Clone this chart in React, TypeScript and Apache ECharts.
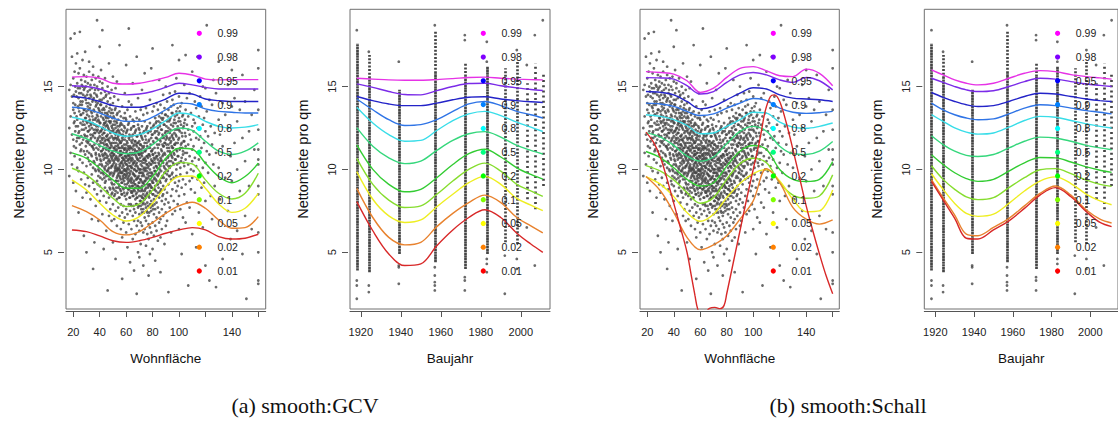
import React, { useEffect, useRef } from "react";
import * as echarts from "echarts";

// ---------- legend / quantiles ----------
const quantiles = ["0.99", "0.98", "0.95", "0.9", "0.8", "0.5", "0.2", "0.1", "0.05", "0.02", "0.01"];
const dotColors = ["#FF00FF", "#8000FF", "#0000FF", "#0080FF", "#00FFFF", "#00FF80", "#00FF00", "#80FF00", "#FFFF00", "#FF8000", "#FF0000"];
const lineColors = ["#E632E6", "#7B2BE8", "#2323C8", "#2F74E6", "#38DDE8", "#35D77C", "#33CC33", "#86DD2E", "#EEEE22", "#E8822E", "#D82828"];

// ---------- axis ticks ----------
const yTicks = [5, 10, 15];
const areaTicks = [20, 40, 60, 80, 100, 120, 140, 160];
const areaLabels = [20, 40, 60, 80, 100, 140];
const yearTicks = [1920, 1940, 1960, 1980, 2000];

// ---------- quantile curves: Wohnfläche ----------
const areaGrid = [19, 30, 40, 50, 60, 70, 80, 90, 100, 110, 120, 130, 140, 150, 160];
const gcvArea = [
  [15.57, 15.6, 15.5, 15.2, 15.15, 15.2, 15.35, 15.55, 15.8, 15.7, 15.45, 15.4, 15.42, 15.42, 15.42],
  [15.05, 15.0, 14.85, 14.6, 14.5, 14.55, 14.7, 14.95, 15.2, 15.1, 14.95, 14.85, 14.85, 14.85, 14.85],
  [14.4, 14.3, 14.1, 13.85, 13.75, 13.75, 13.95, 14.25, 14.6, 14.55, 14.25, 14.15, 14.1, 14.1, 14.1],
  [13.75, 13.65, 13.4, 13.1, 12.9, 12.9, 13.15, 13.6, 14.0, 13.95, 13.65, 13.5, 13.45, 13.4, 13.4],
  [13.15, 12.95, 12.6, 12.2, 12.0, 12.1, 12.45, 12.95, 13.4, 13.3, 12.9, 12.6, 12.5, 12.55, 12.7],
  [12.15, 11.85, 11.45, 11.1, 10.95, 11.05, 11.5, 12.1, 12.5, 12.35, 11.7, 11.1, 10.9, 11.1, 11.6],
  [11.0, 10.67, 10.07, 9.37, 8.86, 8.86, 9.57, 10.67, 11.28, 11.22, 10.37, 9.57, 9.2, 9.57, 10.37],
  [10.07, 9.67, 9.0, 8.26, 7.76, 7.92, 8.76, 9.87, 10.41, 10.33, 9.37, 8.56, 8.22, 8.56, 9.77],
  [9.37, 8.76, 7.96, 7.25, 6.89, 7.15, 7.96, 8.96, 9.57, 9.6, 8.86, 7.92, 7.41, 7.66, 8.56],
  [7.82, 7.45, 6.95, 6.25, 6.05, 6.25, 6.79, 7.35, 7.8, 8.02, 7.66, 6.95, 6.45, 6.49, 7.15],
  [6.35, 6.25, 5.99, 5.7, 5.6, 5.7, 5.9, 6.15, 6.35, 6.49, 6.35, 5.95, 5.8, 5.85, 6.09],
];
const schallArea = [
  [15.9, 15.85, 15.75, 15.35, 14.65, 14.9, 15.55, 16.1, 16.2, 15.95, 15.65, 15.6, 16.05, 15.8, 15.05],
  [15.54, 15.52, 15.45, 15.05, 14.55, 14.7, 15.25, 15.7, 15.85, 15.7, 15.4, 15.25, 15.55, 15.35, 14.8],
  [14.7, 14.65, 14.5, 14.1, 13.65, 13.8, 14.2, 14.6, 14.93, 14.85, 14.5, 14.3, 14.25, 14.2, 14.1],
  [14.0, 13.95, 13.8, 13.5, 13.25, 13.35, 13.7, 14.0, 14.28, 14.15, 13.7, 13.45, 13.38, 13.42, 13.5],
  [13.3, 13.2, 13.0, 12.65, 12.15, 12.2, 12.6, 13.0, 13.45, 13.4, 12.85, 12.55, 12.48, 12.6, 12.8],
  [12.22, 11.95, 11.45, 10.8, 10.5, 10.75, 11.55, 12.3, 12.6, 12.3, 11.4, 10.95, 10.9, 11.1, 11.68],
  [11.08, 10.7, 10.1, 9.4, 9.0, 9.2, 10.2, 11.1, 11.44, 11.2, 10.0, 9.4, 9.27, 9.4, 10.47],
  [10.23, 9.9, 9.37, 8.6, 7.96, 8.3, 9.4, 10.35, 10.67, 10.4, 9.2, 8.45, 8.26, 8.4, 9.67],
  [9.57, 9.1, 8.36, 7.4, 6.87, 7.3, 8.3, 9.15, 9.75, 10.0, 9.3, 8.2, 7.45, 7.5, 8.76],
  [9.57, 8.7, 7.4, 5.9, 5.15, 5.45, 6.0, 7.0, 8.1, 10.05, 9.2, 7.7, 7.0, 6.7, 6.95],
];
// the 0.01 curve of the Schall fit (x, y), runs off the bottom of the plot
const schallAreaLow = [
  [19, 12.25], [25, 11.6], [30, 10.7], [35, 9.4], [40, 7.95], [45, 6.5], [50, 5.0], [53, 3.7], [56, 2.4],
  [58, 1.6], [61, 1.1], [64, 1.35], [67, 1.62], [71, 1.68], [75, 1.6], [78, 1.8], [80, 2.5], [85, 4.4],
  [90, 6.3], [95, 8.2], [100, 10.0], [105, 11.8], [109, 13.5], [113, 14.4], [116, 14.5], [120, 14.1],
  [125, 12.8], [130, 11.2], [135, 9.5], [140, 7.8], [145, 6.3], [150, 4.9], [155, 3.6], [160, 2.5],
];

// ---------- quantile curves: Baujahr ----------
const gcvYearGrid = [1918, 1926, 1934, 1942, 1950, 1958, 1966, 1974, 1982, 1990, 1998, 2005, 2011];
const gcvYear = [
  [15.5, 15.45, 15.4, 15.38, 15.38, 15.42, 15.48, 15.55, 15.57, 15.5, 15.45, 15.42, 15.4],
  [15.16, 14.95, 14.7, 14.52, 14.5, 14.75, 15.0, 15.18, 15.2, 15.05, 14.92, 14.82, 14.76],
  [14.4, 14.15, 13.95, 13.85, 13.85, 14.0, 14.2, 14.35, 14.38, 14.25, 14.15, 14.08, 14.04],
  [14.25, 13.6, 13.0, 12.65, 12.7, 13.0, 13.5, 13.95, 14.1, 13.85, 13.5, 13.3, 13.1],
  [13.75, 12.8, 12.1, 11.7, 11.75, 12.35, 12.95, 13.35, 13.5, 13.25, 12.85, 12.55, 12.29],
  [12.52, 11.4, 10.7, 10.35, 10.5, 11.15, 11.75, 12.15, 12.28, 11.95, 11.45, 11.15, 10.93],
  [11.48, 10.0, 9.1, 8.65, 8.8, 9.5, 10.3, 10.95, 11.22, 10.75, 10.1, 9.7, 9.42],
  [10.67, 9.1, 8.15, 7.7, 7.8, 8.5, 9.3, 10.0, 10.38, 9.9, 9.1, 8.7, 8.37],
  [9.87, 8.2, 7.2, 6.8, 6.95, 7.75, 8.5, 9.2, 9.58, 9.1, 8.25, 7.85, 7.51],
  [8.86, 7.1, 5.9, 5.45, 5.6, 6.55, 7.35, 8.0, 8.45, 8.0, 7.1, 6.6, 6.17],
  [8.06, 6.3, 4.9, 4.2, 4.3, 5.4, 6.35, 7.1, 7.57, 7.1, 6.15, 5.5, 5.0],
];
const schallYearGrid = [1918, 1924, 1930, 1936, 1942, 1950, 1958, 1966, 1974, 1982, 1990, 1998, 2005, 2011];
const schallYear = [
  [16.0, 15.7, 15.4, 15.2, 15.1, 15.2, 15.5, 15.8, 15.96, 15.9, 15.72, 15.6, 15.52, 15.45],
  [15.5, 15.25, 15.0, 14.8, 14.7, 14.75, 15.0, 15.3, 15.5, 15.45, 15.3, 15.15, 15.07, 15.0],
  [14.64, 14.35, 14.1, 13.9, 13.8, 13.85, 14.1, 14.4, 14.6, 14.55, 14.4, 14.25, 14.15, 14.1],
  [14.0, 13.6, 13.3, 13.1, 13.0, 13.05, 13.35, 13.7, 13.9, 13.85, 13.7, 13.55, 13.45, 13.35],
  [13.3, 12.9, 12.5, 12.25, 12.13, 12.2, 12.55, 12.95, 13.2, 13.15, 12.95, 12.75, 12.6, 12.5],
  [12.03, 11.5, 11.1, 10.85, 10.78, 10.9, 11.3, 11.7, 11.95, 11.9, 11.7, 11.45, 11.3, 11.19],
  [10.89, 10.3, 9.8, 9.45, 9.28, 9.4, 9.9, 10.4, 10.72, 10.7, 10.45, 10.15, 9.95, 9.82],
  [10.22, 9.4, 8.8, 8.35, 8.18, 8.3, 8.9, 9.5, 9.98, 10.05, 9.75, 9.35, 9.1, 8.98],
  [9.74, 8.8, 7.95, 7.35, 7.17, 7.3, 7.95, 8.7, 9.3, 9.55, 9.15, 8.5, 8.1, 7.87],
  [9.38, 8.3, 7.25, 6.1, 6.0, 6.5, 7.05, 7.8, 8.55, 9.0, 8.45, 7.55, 7.0, 6.77],
  [9.28, 8.16, 7.05, 5.85, 5.8, 6.35, 6.9, 7.65, 8.45, 8.9, 8.35, 7.45, 6.8, 6.55],
];

// ---------- observations: Wohnfläche (x, list of Nettomiete values) ----------
const areaObs: [number, number[]][] = [
  [17, [12.5, 14.8, 9.6]], [18, [17.9, 13.2, 11.0, 15.1]], [19, [16.8, 12.1, 14.4, 10.3]],
  [20, [13.6, 15.5, 11.8, 9.2, 14.0]], [21, [18.2, 12.9, 15.9, 10.8, 13.4]], [22, [14.7, 11.3, 16.4, 12.6, 8.7]],
  [23, [15.2, 13.0, 10.1, 17.0, 11.9]], [24, [12.2, 14.3, 9.9, 15.8, 13.7, 7.4]], [25, [16.1, 11.5, 13.9, 18.3, 10.6, 14.9]],
  [26, [13.3, 15.4, 12.0, 9.4, 14.6, 11.2]], [27, [14.1, 10.4, 16.6, 12.7, 15.0, 8.3]], [28, [12.4, 14.8, 11.1, 13.6, 9.8, 15.7, 6.0]],
  [29, [15.3, 13.1, 10.9, 14.4, 12.0, 17.1, 9.1]], [30, [11.7, 14.0, 12.9, 15.6, 10.2, 13.5, 8.6, 5.0]],
  [31, [13.8, 12.3, 14.7, 10.7, 15.2, 11.6, 9.5]], [32, [14.3, 12.6, 11.0, 15.9, 13.2, 9.0, 10.5, 16.5]],
  [33, [12.1, 13.9, 15.1, 10.3, 11.8, 14.5, 8.2, 12.8]], [34, [13.4, 11.4, 14.9, 9.7, 12.5, 15.4, 10.8, 7.0]],
  [35, [14.2, 12.0, 10.1, 15.7, 13.0, 11.3, 9.2, 16.2, 4.0]], [36, [12.7, 14.6, 11.5, 13.5, 10.4, 15.1, 8.8, 12.2, 5.6]],
  [37, [13.1, 11.0, 14.1, 12.4, 9.9, 15.5, 10.9, 13.8, 7.8]], [38, [12.3, 14.4, 10.6, 13.3, 11.7, 9.3, 15.0, 12.9, 8.5, 19.0]],
  [39, [13.7, 11.2, 12.6, 14.8, 10.0, 11.9, 9.6, 13.0, 15.6, 6.9]], [40, [12.0, 13.5, 10.8, 14.2, 11.4, 9.0, 12.8, 15.3, 8.1, 10.3, 17.4]],
  [41, [13.2, 11.6, 14.6, 10.5, 12.3, 9.8, 13.9, 11.1, 8.7, 16.0]], [42, [12.5, 10.9, 13.6, 11.8, 14.9, 9.4, 12.1, 10.2, 15.2, 7.3, 18.4]],
  [43, [11.3, 13.0, 12.2, 10.6, 14.3, 9.7, 11.9, 13.7, 8.4, 12.7, 5.2]], [44, [12.8, 11.0, 13.4, 10.0, 14.7, 11.7, 9.2, 12.4, 15.5, 8.9, 10.7]],
  [45, [11.5, 12.9, 10.4, 13.8, 9.6, 12.0, 14.5, 10.9, 8.0, 11.2, 13.1, 6.3]], [46, [12.6, 10.8, 13.3, 11.4, 9.9, 14.1, 12.1, 8.6, 10.3, 15.0, 11.8, 2.7]],
  [47, [11.1, 12.4, 10.1, 13.5, 9.4, 11.7, 14.6, 10.6, 12.9, 8.3, 7.2, 16.4]], [48, [12.2, 10.5, 11.6, 13.2, 9.7, 12.8, 10.9, 14.3, 8.8, 11.3, 7.6, 13.9]],
  [49, [10.7, 12.0, 11.4, 9.2, 13.6, 10.2, 12.6, 8.5, 14.8, 11.0, 6.9, 9.8]], [50, [11.9, 10.3, 12.7, 9.6, 13.4, 11.1, 8.9, 10.8, 14.0, 12.3, 7.9, 5.6, 15.6]],
  [51, [10.9, 12.2, 9.8, 11.6, 13.1, 10.4, 8.4, 12.9, 11.3, 9.1, 14.4, 7.0]], [52, [11.4, 10.0, 12.5, 9.3, 13.7, 10.7, 11.9, 8.7, 12.1, 10.2, 7.5, 14.9, 4.6]],
  [53, [10.6, 11.8, 9.5, 12.8, 10.1, 11.2, 13.3, 8.2, 9.9, 12.3, 6.6, 15.3]], [54, [11.0, 9.7, 12.4, 10.5, 13.0, 8.9, 11.5, 10.0, 12.0, 7.7, 14.2, 9.3]],
  [55, [10.3, 11.7, 9.0, 12.6, 10.8, 8.3, 11.3, 13.5, 9.6, 7.2, 12.2, 10.0, 17.5]], [56, [9.8, 11.1, 10.4, 12.1, 8.7, 10.9, 13.2, 9.4, 11.6, 7.9, 6.4, 12.8]],
  [57, [10.7, 9.2, 11.9, 10.1, 12.7, 8.5, 11.4, 9.8, 13.8, 7.4, 10.5, 5.9, 3.4]], [58, [9.9, 11.3, 10.6, 8.8, 12.3, 9.5, 11.0, 13.1, 7.8, 10.2, 12.0, 6.8]],
  [59, [10.4, 9.1, 11.8, 10.0, 12.5, 8.4, 11.2, 9.7, 13.4, 7.1, 10.8, 14.6]], [60, [9.6, 11.0, 10.3, 8.9, 12.2, 9.9, 11.5, 7.6, 10.7, 13.0, 8.2, 6.2, 16.3]],
  [61, [10.8, 9.4, 11.6, 10.1, 8.6, 12.4, 9.8, 11.2, 7.3, 10.5, 13.6, 5.3]], [62, [9.3, 10.6, 11.9, 8.8, 10.0, 12.8, 9.6, 11.3, 7.9, 10.9, 14.1, 6.7, 18.5]],
  [63, [10.2, 8.9, 11.4, 9.7, 12.0, 10.7, 8.3, 11.0, 13.2, 7.5, 9.4, 4.4]], [64, [9.5, 10.9, 8.6, 11.7, 10.1, 12.5, 9.2, 7.8, 10.5, 11.3, 6.4, 13.9]],
  [65, [10.6, 9.0, 11.2, 8.4, 12.1, 9.8, 10.3, 7.2, 11.8, 13.0, 8.7, 5.8, 15.2]], [66, [9.7, 11.0, 8.8, 10.4, 12.6, 9.3, 11.5, 7.6, 10.0, 6.9, 12.9, 3.9]],
  [67, [10.9, 9.1, 11.7, 8.2, 10.2, 12.3, 9.6, 7.4, 11.1, 13.5, 8.9, 6.1]], [68, [9.4, 10.7, 8.6, 11.4, 9.9, 12.0, 7.9, 10.4, 8.3, 13.1, 6.6, 2.5, 16.8]],
  [69, [10.1, 8.8, 11.6, 9.5, 12.7, 7.7, 10.6, 9.0, 11.0, 6.9, 14.3, 5.0]], [70, [9.2, 10.5, 8.4, 11.2, 9.8, 12.4, 7.3, 10.9, 8.9, 13.0, 6.3, 11.7, 4.7]],
  [71, [10.3, 8.7, 11.5, 9.4, 7.8, 12.1, 10.0, 8.1, 11.0, 6.8, 13.6, 5.5]], [72, [9.0, 10.8, 8.3, 11.9, 9.6, 7.4, 12.6, 10.2, 8.8, 6.6, 11.4, 14.8]],
  [73, [10.0, 8.5, 11.3, 9.2, 12.2, 7.6, 10.6, 8.0, 13.3, 6.2, 9.7, 4.2]], [74, [9.3, 10.7, 8.2, 11.6, 7.1, 9.9, 12.9, 8.7, 10.4, 6.4, 11.1, 15.8]],
  [75, [10.5, 8.9, 11.8, 7.7, 9.5, 12.4, 8.3, 10.1, 6.9, 11.2, 5.4, 13.7]], [76, [9.1, 10.3, 8.0, 11.4, 7.4, 9.7, 12.6, 8.6, 10.8, 6.1, 13.4]],
  [77, [10.2, 8.4, 11.7, 9.0, 7.2, 12.3, 9.8, 6.7, 10.9, 5.8, 3.6]], [78, [9.4, 10.8, 7.9, 11.3, 8.7, 12.8, 10.0, 6.5, 9.1, 14.2, 4.9]],
  [79, [10.6, 8.1, 9.6, 11.9, 7.5, 10.3, 12.5, 8.9, 6.2, 11.1, 16.1]], [80, [9.7, 11.2, 8.5, 10.5, 7.8, 12.1, 9.2, 6.8, 13.5, 10.9, 5.2, 17.3]],
  [81, [10.1, 8.8, 11.6, 9.4, 7.3, 12.7, 10.7, 6.0, 8.2, 13.8]], [82, [9.9, 11.0, 8.4, 12.3, 7.6, 10.4, 9.0, 13.1, 6.6, 4.5]],
  [83, [10.8, 9.3, 11.9, 8.0, 12.9, 7.1, 10.2, 14.0, 6.3, 9.7]], [84, [9.6, 11.3, 8.6, 10.6, 12.5, 7.7, 13.6, 9.1, 5.7, 11.8]],
  [85, [10.9, 9.8, 12.2, 8.3, 11.5, 7.4, 13.2, 10.3, 6.8, 15.4]], [86, [10.2, 11.7, 9.2, 12.8, 8.7, 10.7, 7.0, 13.9, 5.9, 3.8]],
  [87, [11.1, 9.5, 12.4, 8.1, 10.5, 13.4, 7.6, 11.9, 6.4]], [88, [10.4, 12.0, 9.0, 11.4, 8.5, 13.1, 10.9, 7.2, 14.5]],
  [89, [11.6, 9.8, 12.7, 8.8, 10.1, 13.7, 7.9, 11.0, 5.5]], [90, [10.6, 12.3, 9.3, 11.8, 8.2, 13.3, 10.0, 7.4, 15.0, 6.6]],
  [91, [11.3, 9.7, 12.9, 10.4, 8.6, 14.1, 11.9, 6.9]], [92, [10.8, 12.5, 9.1, 11.5, 13.6, 8.0, 10.2, 2.6]],
  [93, [11.9, 10.1, 13.0, 9.6, 12.2, 7.7, 14.6, 11.1]], [94, [10.5, 12.7, 9.4, 11.7, 8.4, 13.8, 10.9, 6.2]],
  [95, [12.1, 10.7, 13.4, 9.8, 11.3, 8.8, 14.2, 17.5, 7.3]], [96, [11.0, 12.8, 9.5, 10.3, 13.9, 8.1, 11.8]],
  [97, [12.4, 10.6, 11.5, 9.2, 13.2, 7.5, 14.7]], [98, [11.2, 13.5, 10.0, 12.0, 8.7, 9.6, 15.5]],
  [99, [10.8, 12.6, 11.6, 9.0, 13.7, 7.9]], [100, [11.9, 10.4, 13.1, 9.3, 12.4, 8.4, 14.4, 16.6, 6.4]],
  [101, [11.3, 12.9, 10.1, 9.7, 13.8, 7.6]], [102, [12.2, 10.7, 11.6, 8.9, 14.0, 4.9]], [103, [10.9, 13.3, 9.4, 12.5, 11.1, 7.1]],
  [104, [11.7, 10.2, 12.8, 8.5, 15.1]], [105, [12.0, 10.6, 13.6, 9.1, 11.4, 6.8, 16.9]], [106, [11.0, 12.7, 9.8, 14.3, 8.0]],
  [107, [12.4, 10.3, 11.5, 13.2, 3.0]], [108, [10.8, 12.1, 9.3, 14.6, 7.7]], [109, [11.8, 13.4, 10.0, 8.8]],
  [110, [12.6, 10.5, 11.2, 9.5, 15.9, 6.1]], [111, [11.4, 13.0, 9.9, 12.3]], [112, [10.7, 12.8, 8.6, 14.1]],
  [113, [11.9, 10.2, 13.7, 5.3]], [114, [12.5, 9.4, 11.0, 16.8]], [115, [10.6, 13.2, 11.8, 18.2, 7.4]],
  [116, [12.0, 9.7, 14.4]], [117, [11.3, 13.8, 8.9]], [118, [10.1, 12.7, 15.0, 6.5]], [119, [11.6, 9.2, 13.1]],
  [120, [12.3, 10.4, 14.9, 8.1, 4.2]], [121, [11.1, 13.5, 18.7]], [122, [9.8, 12.0]], [123, [10.9, 14.2, 3.3]],
  [124, [12.6, 8.4]], [125, [11.5, 13.9, 7.0]], [126, [10.3, 15.4]], [127, [12.2, 9.0]], [128, [11.0, 2.9, 14.6]],
  [130, [13.0, 10.1, 16.5]], [131, [8.2, 12.1]], [133, [11.4, 14.0, 4.6]], [135, [9.5, 13.3]], [137, [12.5, 15.1, 7.5]],
  [139, [10.8, 5.8]], [140, [13.8, 9.3, 16.0]], [142, [11.6, 14.3]], [144, [10.0, 12.9, 6.3]], [146, [8.7, 13.6]],
  [148, [11.9, 15.7, 4.9]], [150, [10.5, 14.1, 7.2]], [151, [2.2]], [153, [12.3, 9.0]], [155, [13.3, 6.4]],
  [157, [11.2, 14.8]], [160, [17.2, 16.1, 13.6, 12.4, 11.2, 10.6, 10.3, 9.0, 8.5, 6.2, 5.0, 3.3, 3.1]],
  // half-square-metre flats in the crowded middle of the cloud
  [20.5, [12.8, 14.5, 11.4]], [21.5, [13.9, 12.3, 15.0]], [22.5, [13.2, 11.7, 14.4]], [23.5, [12.6, 14.9, 13.8]],
  [24.5, [13.5, 11.9, 14.6, 12.3]], [25.5, [12.8, 14.1, 13.3, 11.1]], [26.5, [13.9, 12.4, 15.1, 11.6]],
  [27.5, [12.9, 14.5, 13.4, 11.8]], [28.5, [13.6, 12.1, 14.9, 12.7]], [29.5, [12.5, 14.2, 13.1, 11.4, 15.0]],
  [30.5, [13.3, 12.0, 14.5, 12.8, 11.1]], [31.5, [12.9, 14.0, 11.7, 13.6, 12.3]], [32.5, [13.7, 12.4, 14.8, 11.5, 13.0]],
  [33.5, [12.7, 13.5, 11.9, 14.4, 10.9]], [34.5, [13.2, 12.1, 14.1, 11.4, 12.8]],
  [35.5, [12.4, 13.6, 11.2, 14.3, 10.5]], [36.5, [13.0, 11.9, 14.8, 12.2, 10.0]], [37.5, [12.6, 11.3, 13.9, 10.7, 14.5]],
  [38.5, [11.8, 13.2, 12.4, 10.2, 14.0, 9.1]], [39.5, [12.9, 11.5, 13.6, 10.9, 12.2, 9.9]], [40.5, [11.7, 12.8, 10.6, 13.9, 12.3, 9.5]],
  [41.5, [12.4, 11.1, 13.4, 10.3, 11.9, 14.2]], [42.5, [11.6, 13.1, 10.8, 12.5, 9.8, 11.2]], [43.5, [12.2, 10.9, 13.6, 11.5, 9.5, 12.8, 10.1]],
  [44.5, [11.3, 12.6, 10.2, 13.2, 11.8, 9.3, 14.4]], [45.5, [12.0, 10.7, 11.5, 13.4, 9.9, 12.7, 8.7]], [46.5, [11.2, 12.5, 10.5, 9.6, 13.1, 11.8, 10.0]],
  [47.5, [11.9, 10.4, 12.9, 9.8, 11.3, 13.7, 8.9]], [48.5, [10.8, 12.3, 11.5, 9.4, 12.9, 10.1, 13.4]], [49.5, [11.6, 10.2, 12.5, 9.1, 11.0, 13.1, 8.6, 10.6]],
  [50.5, [10.5, 11.8, 9.7, 12.4, 10.9, 8.8, 13.2, 11.3]], [51.5, [11.2, 9.9, 12.7, 10.6, 8.5, 11.9, 10.1, 13.6]], [52.5, [10.3, 11.6, 9.3, 12.2, 10.8, 8.9, 11.1, 12.9]],
  [53.5, [11.4, 10.0, 12.6, 9.6, 10.7, 8.6, 11.9, 13.4]], [54.5, [10.1, 11.3, 9.1, 12.3, 10.6, 8.3, 11.8, 9.8]], [55.5, [10.9, 9.5, 11.6, 10.2, 12.7, 8.8, 11.1, 9.9]],
  [56.5, [10.4, 11.7, 9.2, 10.9, 12.4, 8.5, 9.8, 11.3]], [57.5, [9.6, 11.0, 10.3, 12.1, 8.9, 10.7, 9.4, 11.8]], [58.5, [10.6, 9.3, 11.5, 10.0, 12.6, 8.6, 11.2, 9.7]],
  [59.5, [9.9, 11.3, 10.5, 8.9, 12.0, 9.5, 10.8, 13.1]], [60.5, [10.3, 9.1, 11.7, 10.0, 8.5, 12.3, 9.7, 11.1]], [61.5, [9.5, 10.9, 8.8, 11.4, 10.2, 12.7, 9.2, 10.6]],
  [62.5, [10.4, 9.0, 11.8, 9.8, 8.3, 12.1, 10.8, 11.2]], [63.5, [9.3, 10.6, 8.7, 11.3, 9.9, 12.4, 10.2, 7.9]], [64.5, [10.1, 9.4, 11.6, 8.6, 10.7, 12.0, 9.0, 11.0]],
  [65.5, [9.7, 10.9, 8.4, 11.4, 9.2, 12.6, 10.4, 7.8]], [66.5, [10.5, 9.1, 11.2, 8.7, 10.0, 12.2, 9.6, 11.7]], [67.5, [9.4, 10.8, 8.5, 11.5, 9.9, 12.4, 7.9, 10.3]],
  [68.5, [10.2, 9.0, 11.1, 8.3, 10.6, 12.0, 9.5, 11.6]], [69.5, [9.6, 10.9, 8.7, 11.3, 9.2, 7.8, 12.5, 10.0]], [70.5, [10.0, 8.9, 11.5, 9.4, 10.7, 8.1, 12.2, 9.8]],
  [71.5, [9.3, 10.5, 8.4, 11.2, 9.8, 7.6, 12.0, 10.9]], [72.5, [9.8, 8.7, 11.0, 9.2, 10.4, 7.9, 11.8, 8.3]], [73.5, [9.1, 10.6, 8.2, 11.4, 9.6, 7.4, 10.1, 12.3]],
  [74.5, [10.0, 8.8, 11.1, 9.3, 7.9, 10.6, 12.0, 8.4]], [75.5, [9.4, 10.8, 8.5, 11.6, 9.9, 7.5, 10.3, 12.5]], [76.5, [10.1, 8.9, 11.3, 9.5, 7.8, 10.7, 12.2]],
  [77.5, [9.6, 10.9, 8.3, 11.8, 9.1, 7.4, 10.4]], [78.5, [10.3, 9.0, 11.5, 8.6, 12.3, 9.8, 7.7]], [79.5, [9.8, 11.1, 8.9, 10.5, 12.1, 7.9, 9.3]],
  [80.5, [10.4, 9.2, 11.7, 8.5, 10.9, 12.6, 7.6]], [81.5, [9.9, 11.3, 8.8, 10.6, 12.2, 9.5, 7.9]], [82.5, [10.7, 9.4, 11.9, 8.7, 10.2, 12.8]],
  [83.5, [10.1, 11.5, 9.1, 12.3, 8.4, 10.8]], [84.5, [11.0, 9.7, 12.1, 10.4, 8.9, 12.9]], [85.5, [10.5, 11.8, 9.3, 12.6, 10.0, 8.6]],
  [86.5, [11.2, 9.9, 12.4, 10.6, 8.8, 13.1]], [87.5, [10.8, 12.1, 9.6, 11.5, 13.0, 8.4]], [88.5, [11.4, 10.2, 12.7, 9.5, 11.9]],
  [89.5, [10.9, 12.2, 9.8, 11.6, 13.3]], [90.5, [11.5, 10.3, 12.6, 9.4, 12.0]], [91.5, [10.7, 12.3, 11.1, 9.9, 13.2]],
  [92.5, [11.8, 10.5, 12.9, 9.6, 11.3]], [93.5, [11.0, 12.4, 10.2, 13.1, 11.6]], [94.5, [12.0, 10.8, 11.4, 13.4, 9.7]],
  [95.5, [11.3, 12.6, 10.4, 11.9]], [96.5, [12.2, 10.9, 13.0, 11.5]], [97.5, [11.6, 12.8, 10.6, 12.1]],
  [98.5, [12.4, 11.1, 13.3, 10.3]], [99.5, [11.8, 12.9, 10.8]], [100.5, [12.3, 11.2, 13.5]],
  [101.5, [11.5, 12.7, 10.5]], [102.5, [12.0, 11.3, 13.2]], [103.5, [11.7, 12.6, 10.4]], [104.5, [12.2, 11.0, 13.0]],
];

// ---------- observations: Baujahr (columns of many tied values) ----------
// [Baujahr, lowest, highest] of runs of closely packed observations
const yearDenseRuns = [[1918, 3.9, 17.6], [1924, 3.8, 15.5], [1939, 4.9, 14.8], [1957, 4.4, 15.8], [1972, 4.0, 15.6], [1983, 4.9, 16.2]];
const yearMediumRuns = [[1924, 15.5, 16.9], [1957, 15.8, 18.3], [1972, 15.6, 16.4], [1992, 5.6, 16.1], [1998, 5.5, 16.5]];
const yearSparseRuns = [[2003, 8.2, 15.2], [2007, 7.6, 16.4], [2011, 9.0, 15.8]];
const yearSingles: [number, number[]][] = [
  [1918, [18.4, 3.3, 3.0, 2.2]], [1924, [17.1, 3.0, 2.6]], [1939, [16.5, 4.2, 4.1, 3.1]],
  [1957, [18.7, 4.1, 3.6, 3.2, 3.0, 2.7]], [1972, [18.1, 17.8, 3.5, 3.3, 2.7]], [1983, [17.7, 16.5, 4.6, 4.3, 3.8]],
  [1992, [4.8, 2.5]], [1998, [17.2, 4.6, 4.0]], [2003, [16.3, 6.5]], [2007, [18.1, 4.2]], [2011, [19.0]],
];

// ---------- layout ----------
const FONT = "'Liberation Sans', Arial, Helvetica, sans-serif";
const GRID_TOP = 9.3;
const GRID_H = 299.7;
const Y_MIN = 1.58;
const Y_MAX = 19.66;
const panels = [
  { left: 66, width: 199.7, kind: "area", fit: "gcv", min: 14.5, max: 165.6 },
  { left: 350, width: 200, kind: "year", fit: "gcv", min: 1914.6, max: 2014.6 },
  { left: 640, width: 199.3, kind: "area", fit: "schall", min: 14.5, max: 165.0 },
  { left: 924.3, width: 200, kind: "year", fit: "schall", min: 1914.3, max: 2014.3 },
];
const LEG_DOT_DX = 133.3;
const LEG_TEXT_DX = 151.5;
const LEG_TOP = 33.3;
const LEG_STEP = 23.77;
const POINT_COLOR = "#454545";

function buildOption() {
  const grid: any[] = [];
  const xAxis: any[] = [];
  const yAxis: any[] = [];
  const series: any[] = [];
  const graphic: any[] = [];

  const areaPoints: number[][] = [];
  areaObs.forEach(([x, ys]) => ys.forEach((y) => areaPoints.push([x, y])));
  const yearPoints: number[][] = [];
  yearSingles.forEach(([x, ys]) => ys.forEach((y) => yearPoints.push([x, y])));

  panels.forEach((p, i) => {
    grid.push({
      left: p.left, top: GRID_TOP, width: p.width, height: GRID_H,
      show: true, borderColor: "#707070", borderWidth: 1, backgroundColor: "transparent",
    });
    const isArea = p.kind === "area";
    xAxis.push({
      gridIndex: i, type: "value", min: p.min, max: p.max, offset: 2,
      name: isArea ? "Wohnfläche" : "Baujahr", nameLocation: "middle", nameGap: 40,
      nameTextStyle: { fontSize: 13.5, color: "#111", fontFamily: FONT },
      axisLine: { show: true, lineStyle: { color: "#555", width: 1 } },
      axisTick: { show: true, length: 6, customValues: isArea ? areaTicks : yearTicks, lineStyle: { color: "#555" } },
      axisLabel: {
        customValues: isArea ? areaLabels : yearTicks, fontSize: 11, color: "#222", margin: 15, fontFamily: FONT,
        formatter: (v: number) => String(v),
      },
      splitLine: { show: false },
    });
    yAxis.push({
      gridIndex: i, type: "value", min: Y_MIN, max: Y_MAX, offset: 2,
      name: "Nettomiete pro qm", nameLocation: "middle", nameRotate: 90, nameGap: 38,
      nameTextStyle: { fontSize: 14.5, color: "#111", fontFamily: FONT },
      axisLine: { show: false },
      axisTick: { show: true, length: 6, customValues: yTicks, lineStyle: { color: "#555" } },
      axisLabel: { customValues: yTicks, rotate: 90, fontSize: 11, color: "#222", margin: 11, fontFamily: FONT, formatter: (v: number) => String(v) },
      splitLine: { show: false },
    });

    // observations
    if (isArea) {
      series.push({
        type: "scatter", xAxisIndex: i, yAxisIndex: i, data: areaPoints, symbolSize: 2.8,
        itemStyle: { color: POINT_COLOR }, silent: true, z: 2,
      });
    } else {
      const runSets: [number[][], number[]][] = [
        [yearDenseRuns, [2.4, 0.4]], [yearMediumRuns, [2, 1.6]], [yearSparseRuns, [2, 3.2]],
      ];
      runSets.forEach(([runs, dash]) => {
        series.push({
          type: "lines", coordinateSystem: "cartesian2d", xAxisIndex: i, yAxisIndex: i, silent: true, z: 2,
          data: runs.map(([yr, lo, hi]) => ({ coords: [[yr, lo], [yr, hi]] })),
          lineStyle: { color: POINT_COLOR, width: 2.7, type: dash, opacity: 1, cap: "butt" },
        });
      });
      series.push({
        type: "scatter", xAxisIndex: i, yAxisIndex: i, data: yearPoints, symbolSize: 2.8,
        itemStyle: { color: POINT_COLOR }, silent: true, z: 2,
      });
    }

    // quantile curves
    quantiles.forEach((q, qi) => {
      let data: number[][];
      if (isArea) {
        if (p.fit === "schall" && qi === 10) data = schallAreaLow;
        else {
          const vals = (p.fit === "gcv" ? gcvArea : schallArea)[qi];
          data = areaGrid.map((x, j) => [x, vals[j]]);
        }
      } else {
        const gridX = p.fit === "gcv" ? gcvYearGrid : schallYearGrid;
        const vals = (p.fit === "gcv" ? gcvYear : schallYear)[qi];
        data = gridX.map((x, j) => [x, vals[j]]);
      }
      series.push({
        type: "line", name: q, xAxisIndex: i, yAxisIndex: i, data, smooth: 0.35,
        showSymbol: false, symbol: "none", clip: true, silent: true, z: 3,
        lineStyle: { color: lineColors[qi], width: 1.4 },
      });
    });

    // legend (dots + labels)
    quantiles.forEach((q, qi) => {
      const cy = LEG_TOP + qi * LEG_STEP;
      graphic.push({
        type: "circle", z: 20, silent: true,
        shape: { cx: p.left + LEG_DOT_DX, cy, r: 2.6 }, style: { fill: dotColors[qi] },
      });
      graphic.push({
        type: "text", z: 20, silent: true, x: p.left + LEG_TEXT_DX, y: cy,
        style: { text: q, fill: "#222", fontSize: 10.5, fontFamily: FONT, textAlign: "left", textVerticalAlign: "middle", verticalAlign: "middle" },
      });
    });
  });

  graphic.push({
    type: "text", z: 20, x: 305, y: 405,
    style: { text: "(a) smooth:GCV", fill: "#111", fontSize: 22, fontFamily: "'Liberation Serif', 'DejaVu Serif', serif", textAlign: "center", textVerticalAlign: "middle", align: "center", verticalAlign: "middle" },
  });
  graphic.push({
    type: "text", z: 20, x: 848, y: 405,
    style: { text: "(b) smooth:Schall", fill: "#111", fontSize: 22, fontFamily: "'Liberation Serif', 'DejaVu Serif', serif", textAlign: "center", textVerticalAlign: "middle", align: "center", verticalAlign: "middle" },
  });

  return { animation: false, backgroundColor: "#fff", grid, xAxis, yAxis, series, graphic };
}

export default function App() {
  const ref = useRef<HTMLDivElement>(null);
  useEffect(() => {
    const el = ref.current;
    if (!el) return;
    const chart = echarts.init(el, undefined, { renderer: "svg" });
    chart.setOption(buildOption() as any);
    return () => chart.dispose();
  }, []);
  return (
    <div
      ref={ref}
      style={{ position: "absolute", left: 0, top: 0, width: 1118, height: 423, background: "#fff" }}
    />
  );
}
